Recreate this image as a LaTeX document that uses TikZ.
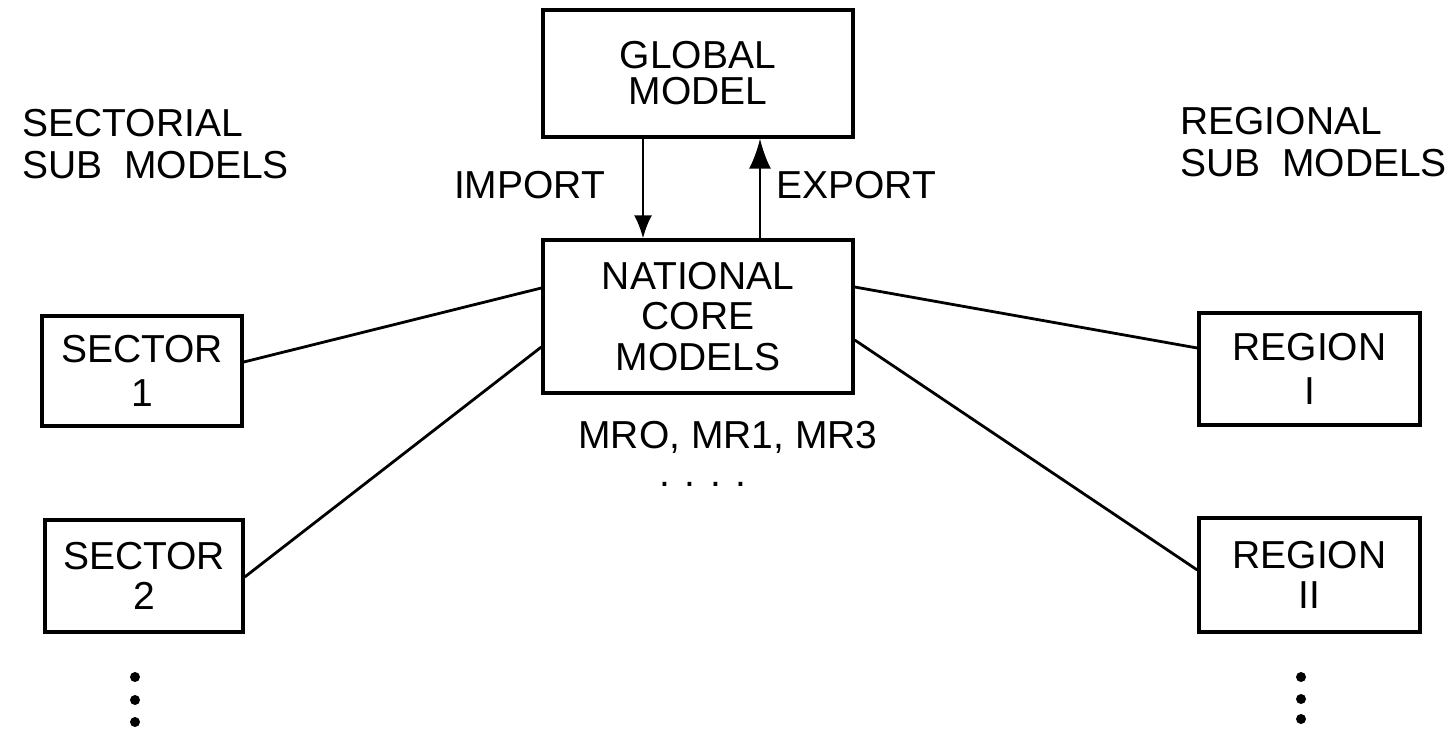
\documentclass[tikz,border=0pt]{standalone}
\usepackage{fontspec}
\setmainfont{Liberation Sans}
\usetikzlibrary{arrows.meta}
\begin{document}
\begin{tikzpicture}[x=0.5pt,y=-0.5pt,
  box/.style={draw,line width=1.7pt,inner sep=0pt,align=center},
  lbl/.style={inner sep=0pt},
  link/.style={line width=1.4pt},
  dotm/.style={fill=black}]
\useasboundingbox (0,0) rectangle (1454,729);
\fontsize{19.5}{21}\selectfont
% boxes
\node[box,minimum width=155pt,minimum height=63.5pt,font=\fontsize{19.5}{18}\selectfont] (glob) at (698,73.5) {GLOBAL\\MODEL};
\node[box,minimum width=155pt,minimum height=76.5pt,font=\fontsize{19.5}{20.25}\selectfont] (nat) at (698,316.5) {NATIONAL\\CORE\\MODELS};
\node[box,minimum width=100pt,minimum height=55pt,font=\fontsize{19.5}{22}\selectfont] (sec1) at (142,371) {SECTOR\\1};
\node[box,minimum width=99pt,minimum height=56pt,font=\fontsize{19.5}{20}\selectfont] (sec2) at (144,576) {SECTOR\\2};
\node[box,minimum width=110.5pt,minimum height=56pt,font=\fontsize{19.5}{22}\selectfont] (reg1) at (1309.5,369) {REGION\\I};
\node[box,minimum width=110.5pt,minimum height=57pt,font=\fontsize{19.5}{20}\selectfont] (reg2) at (1309.5,575) {REGION\\II};
% labels
\node[lbl,anchor=west,align=left] (sectl) at (22,144) {SECTORIAL\\SUB\ \ MODELS};
\node[lbl,anchor=west,align=left] (regl) at (1180,142) {REGIONAL\\SUB\ \ MODELS};
\node[lbl] (imp) at (529.5,185) {IMPORT};
\node[lbl] (exp) at (856,185) {EXPORT};
\node[lbl] (mr) at (728,437) {MRO, MR1, MR3};
\node[lbl] (dd) at (703,484) {. . . .};
% connectors
\draw[link] (sec1.east |- 0,362) -- (nat.west |- 0,288);
\draw[link] (sec2.east |- 0,577) -- (nat.west |- 0,347);
\draw[link] (nat.east |- 0,287) -- (reg1.west |- 0,348);
\draw[link] (nat.east |- 0,340) -- (reg2.west |- 0,570);
\draw[line width=1.1pt,-{Latex[length=11.5pt,width=9pt]}] (glob.south -| 643,0) -- (nat.north -| 643,0);
\draw[line width=1.1pt,-{Latex[length=15pt,width=11pt]}] (nat.north -| 760,0) -- (glob.south -| 760,0);
% vertical dots
\fill[dotm] (135,677) circle (2.5pt);
\fill[dotm] (135,700) circle (2.5pt);
\fill[dotm] (135,722) circle (2.5pt);
\fill[dotm] (1301,677) circle (2.5pt);
\fill[dotm] (1301,699) circle (2.5pt);
\fill[dotm] (1301,719) circle (2.5pt);
\end{tikzpicture}
\end{document}
